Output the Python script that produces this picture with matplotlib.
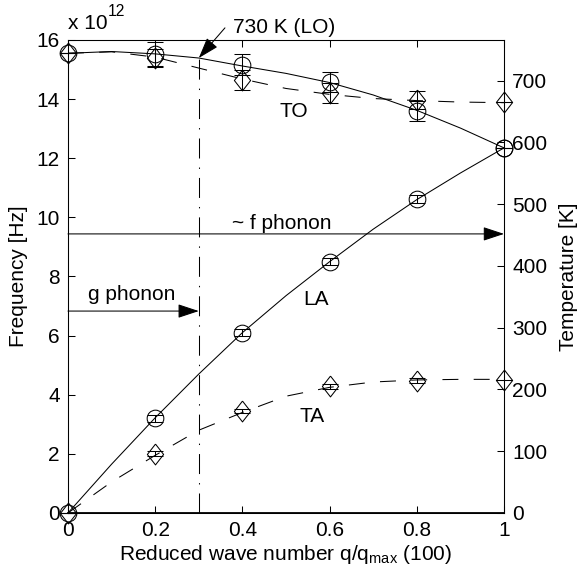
"""Phonon dispersion with temperature axis"""

import matplotlib
matplotlib.use("Agg")
import matplotlib.pyplot as plt

plt.rcParams['font.family'] = ['Liberation Sans', 'DejaVu Sans']
plt.rcParams['mathtext.fontset'] = 'custom'
plt.rcParams['mathtext.rm'] = 'Liberation Sans'
plt.rcParams['lines.scale_dashes'] = False

# measured points (frequency in 1e12 Hz)
q_pts = [0.0, 0.2, 0.4, 0.6, 0.8, 1.0]
lo_pts = [15.55, 15.53, 15.16, 14.58, 13.60, 12.35]
lo_err = [0.0, 0.40, 0.35, 0.34, 0.35, 0.0]
to_pts = [15.55, 15.39, 14.65, 14.20, 13.97, 13.90]
to_err = [0.0, 0.30, 0.35, 0.34, 0.30, 0.0]
la_pts = [0.0, 3.20, 6.10, 8.50, 10.62, 12.35]
la_err = [0.0, 0.12, 0.12, 0.12, 0.12, 0.0]
ta_pts = [0.0, 2.00, 3.45, 4.28, 4.47, 4.50]
ta_err = [0.0, 0.08, 0.08, 0.08, 0.08, 0.0]

# fitted curves
q_fit = [0.0, 0.1, 0.2, 0.3, 0.4, 0.5, 0.6, 0.7, 0.8, 0.9, 1.0]
lo_fit = [15.55, 15.61, 15.53, 15.39, 15.12, 14.87, 14.56, 14.14, 13.62, 13.02, 12.35]
to_fit = [15.55, 15.60, 15.42, 15.05, 14.68, 14.36, 14.16, 14.02, 13.95, 13.90, 13.88]
la_fit = [0.0, 1.65, 3.22, 4.70, 6.10, 7.35, 8.50, 9.60, 10.60, 11.50, 12.35]
ta_fit = [0.0, 1.05, 1.95, 2.80, 3.40, 3.95, 4.25, 4.43, 4.50, 4.52, 4.52]

yticks = [0, 2, 4, 6, 8, 10, 12, 14, 16]
xticks = [0, 0.2, 0.4, 0.6, 0.8, 1.0]
xticklabels = ['0', '0.2', '0.4', '0.6', '0.8', '1']
t_ticks = [0, 100, 200, 300, 400, 500, 600, 700]
t_max = 766

q_lo_mark = 0.3      # 730 K (LO)
lo_at_mark = 15.39
f_phonon = 9.44
g_phonon = 6.83

fs = 15
lw = 0.75
dash = (0, (11.5, 11))
dashdot = (0, (14.4, 6.5, 1.0, 6.5))
diamond = [(0, 1), (0.78, 0), (0, -1), (-0.78, 0), (0, 1)]

fig = plt.figure(figsize=(5.79, 5.82), dpi=100)
ax = fig.add_axes([0.1174, 0.1186, 0.7531, 0.8127])

# curves
ax.plot(q_fit, lo_fit, '-', color='k', lw=lw)
ax.plot(q_fit, to_fit, linestyle=dash, color='k', lw=lw)
ax.plot(q_fit, la_fit, '-', color='k', lw=lw)
ax.plot(q_fit, ta_fit, linestyle=dash, color='k', lw=lw)

# points with error bars
for ys, es, mk in [(lo_pts, lo_err, 'o'), (to_pts, to_err, diamond),
                   (la_pts, la_err, 'o'), (ta_pts, ta_err, diamond)]:
    ax.errorbar(q_pts, ys, yerr=es, fmt='none', ecolor='k', elinewidth=lw,
                capsize=6, capthick=lw, clip_on=False)
    ms = 12 if mk == 'o' else 15
    ax.plot(q_pts, ys, linestyle='none', marker=mk, ms=ms, mfc='none',
            mec='k', mew=lw, clip_on=False)

# vertical dash-dot line at 730 K
ax.plot([q_lo_mark, q_lo_mark], [0, lo_at_mark], linestyle=dashdot, color='k', lw=lw)

arrow = dict(arrowstyle='-|>,head_length=13,head_width=4.3', color='k', lw=lw,
             mutation_scale=1, shrinkA=0, shrinkB=0)
ax.annotate('', xy=(1.0, f_phonon), xytext=(0.0, f_phonon), arrowprops=arrow)
ax.annotate('', xy=(q_lo_mark, g_phonon), xytext=(0.0, g_phonon), arrowprops=arrow)
ax.annotate('', xy=(q_lo_mark, lo_at_mark), xytext=(0.36, 16.41),
            arrowprops=arrow, annotation_clip=False)

ax.text(0.378, 16.24, '730 K (LO)', fontsize=fs, clip_on=False)
ax.text(0.376, 9.61, '~ f phonon', fontsize=fs)
ax.text(0.046, 7.21, 'g phonon', fontsize=fs)
ax.text(0.486, 13.40, 'TO', fontsize=fs)
ax.text(0.539, 7.04, 'LA', fontsize=fs)
ax.text(0.532, 3.08, 'TA', fontsize=fs)

ax.set_xlim(0, 1)
ax.set_ylim(0, 16)
ax.set_xticks(xticks)
ax.set_xticklabels(xticklabels)
ax.set_yticks(yticks)
ax.tick_params(direction='in', length=5, width=lw, labelsize=fs, pad=6,
               top=True, right=False)
for s in ax.spines.values():
    s.set_linewidth(lw)
ax.spines['bottom'].set_linewidth(1.3)
ax.set_xlabel(r'Reduced wave number q/q$_{\mathrm{max}}$ (100)', fontsize=fs, labelpad=2)
ax.set_ylabel('Frequency [Hz]', fontsize=fs, labelpad=6)

# x 10^12 multiplier
fig.text(68 / 579, 1 - 29 / 582, 'x 10', fontsize=fs)
fig.text(108 / 579, 1 - 16 / 582, '12', fontsize=fs * 0.75)

ax2 = ax.twinx()
ax2.set_ylim(0, t_max)
ax2.set_yticks(t_ticks)
ax2.tick_params(direction='in', length=5, width=lw, labelsize=fs, pad=6)
for s in ax2.spines.values():
    s.set_linewidth(lw)
ax2.set_ylabel('Temperature [K]', fontsize=fs, labelpad=8)

fig.savefig('out.png', dpi=100)
